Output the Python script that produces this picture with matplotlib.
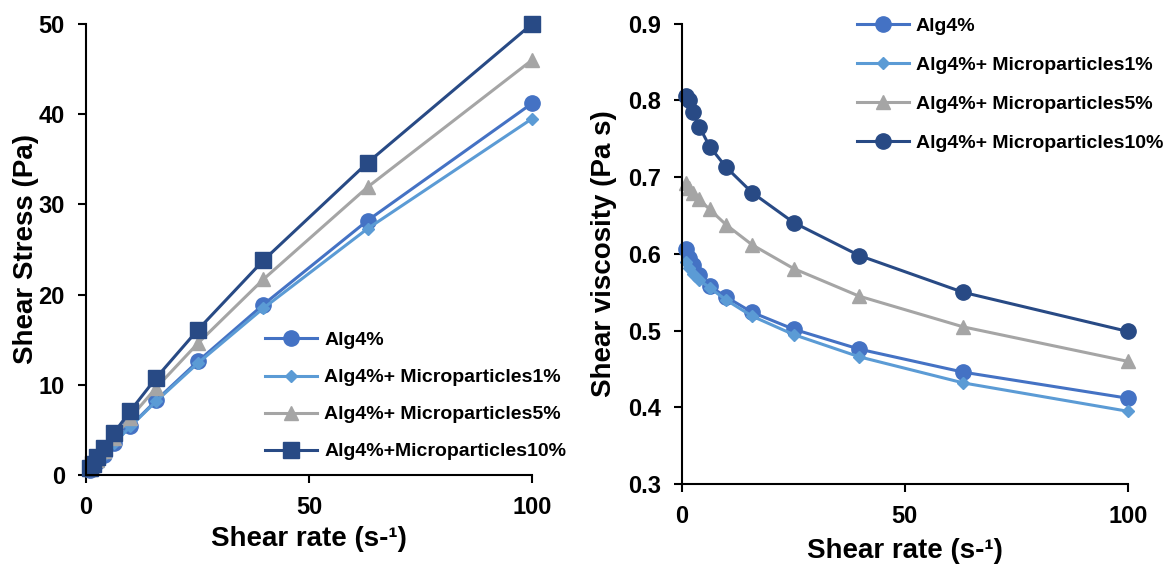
import matplotlib
matplotlib.use('Agg')
import matplotlib.pyplot as plt

plt.rcParams['font.family'] = ['Liberation Sans', 'DejaVu Sans']
plt.rcParams['font.weight'] = 'bold'

# shear rate (1/s)
rate = [1, 1.58, 2.51, 3.98, 6.31, 10, 15.8, 25.1, 39.8, 63.1, 100]

# shear stress (Pa)
stress_alg = [0.61, 0.94, 1.47, 2.28, 3.52, 5.44, 8.3, 12.6, 18.9, 28.2, 41.2]
stress_mp1 = [0.59, 0.92, 1.44, 2.25, 3.51, 5.40, 8.2, 12.4, 18.5, 27.3, 39.5]
stress_mp5 = [0.69, 1.09, 1.71, 2.67, 4.15, 6.38, 9.7, 14.6, 21.7, 31.9, 46.0]
stress_mp10 = [0.81, 1.27, 1.97, 3.05, 4.67, 7.13, 10.8, 16.1, 23.8, 34.6, 50.0]

# shear viscosity (Pa s)
visc_alg = [0.607, 0.595, 0.585, 0.573, 0.558, 0.544, 0.524, 0.502, 0.476, 0.446, 0.412]
visc_mp1 = [0.590, 0.582, 0.574, 0.566, 0.556, 0.540, 0.519, 0.495, 0.466, 0.432, 0.395]
visc_mp5 = [0.692, 0.686, 0.680, 0.671, 0.658, 0.638, 0.612, 0.581, 0.545, 0.505, 0.460]
visc_mp10 = [0.806, 0.800, 0.785, 0.766, 0.740, 0.713, 0.680, 0.641, 0.598, 0.550, 0.499]

left_labels = ['Alg4%', 'Alg4%+ Microparticles1%', 'Alg4%+ Microparticles5%', 'Alg4%+Microparticles10%']
right_labels = ['Alg4%', 'Alg4%+ Microparticles1%', 'Alg4%+ Microparticles5%', 'Alg4%+ Microparticles10%']
colors = ['#4472C4', '#5B9BD5', '#A5A5A5', '#284A85']

fig = plt.figure(figsize=(11.75, 5.65), dpi=100)
ax1 = fig.add_axes([0.073, 0.159, 0.38, 0.799])
ax2 = fig.add_axes([0.580, 0.143, 0.38, 0.815])

def style(ax):
    for s in ['top', 'right']:
        ax.spines[s].set_visible(False)
    for s in ['left', 'bottom']:
        ax.spines[s].set_linewidth(1.5)
    ax.tick_params(direction='out', length=6, width=1.5, labelsize=17, pad=9)
    for lab in ax.get_xticklabels() + ax.get_yticklabels():
        lab.set_fontweight('bold')

leg_kw = dict(frameon=False, handlelength=2.7, handletextpad=0.35, borderpad=0,
              borderaxespad=0, prop={'weight': 'bold', 'size': 14})

# left: shear stress
markers1 = ['o', 'D', '^', 's']
sizes1 = [11, 6.5, 10, 11]
for ys, lab, c, m, ms in zip([stress_alg, stress_mp1, stress_mp5, stress_mp10], left_labels, colors, markers1, sizes1):
    ax1.plot(rate, ys, color=c, marker=m, markersize=ms, linewidth=2.2, label=lab, clip_on=False)
ax1.set_xlim(0, 100)
ax1.set_ylim(0, 50)
ax1.set_xticks([0, 50, 100])
ax1.set_yticks([0, 10, 20, 30, 40, 50])
style(ax1)
ax1.set_xlabel('Shear rate (s-¹)', fontsize=20, fontweight='bold', labelpad=5)
ax1.set_ylabel('Shear Stress (Pa)', fontsize=20, fontweight='bold', labelpad=0)
ax1.legend(loc='upper left', bbox_to_anchor=(0.2255, 0.413), bbox_transform=fig.transFigure,
           labelspacing=1.0, **leg_kw)

# right: shear viscosity
markers2 = ['o', 'D', '^', 'o']
sizes2 = [11, 6.5, 10, 11]
for ys, lab, c, m, ms in zip([visc_alg, visc_mp1, visc_mp5, visc_mp10], right_labels, colors, markers2, sizes2):
    ax2.plot(rate, ys, color=c, marker=m, markersize=ms, linewidth=2.2, label=lab, clip_on=False)
ax2.set_xlim(0, 100)
ax2.set_ylim(0.3, 0.9)
ax2.set_xticks([0, 50, 100])
ax2.set_yticks([0.3, 0.4, 0.5, 0.6, 0.7, 0.8, 0.9])
style(ax2)
ax2.set_xlabel('Shear rate (s-¹)', fontsize=20, fontweight='bold', labelpad=7)
ax2.set_ylabel('Shear viscosity (Pa s)', fontsize=20, fontweight='bold', labelpad=8)
ax2.legend(loc='upper left', bbox_to_anchor=(0.729, 0.970), bbox_transform=fig.transFigure,
           labelspacing=1.1, **leg_kw)

fig.savefig('out.png', dpi=100)
